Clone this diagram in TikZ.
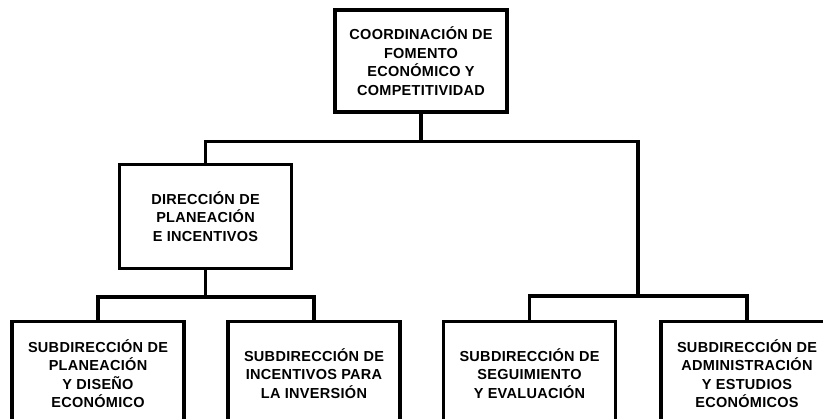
\documentclass[tikz,border=0pt]{standalone}
\usepackage{fontspec}
\setmainfont{Liberation Sans}
\newfontfamily\UnitFont[LetterSpace=2]{Liberation Sans}
\usepackage{tikz}
\usetikzlibrary{positioning,calc}
\tikzstyle{UnitBox} =[draw,line width=3.3pt,fill=white,minimum width=172pt,minimum height=104pt,align=center,font=\UnitFont\bfseries\fontsize{14.5}{18.5}\selectfont]
\tikzstyle{OrgLine} =[line width=3.3pt]

\begin{document}
\begin{tikzpicture}[x=1pt,y=1pt]
    \useasboundingbox (0,0) rectangle (823,419);
    \clip (0,0) rectangle (823,419);

    \node[UnitBox,minimum height=102pt](Coordinacion-Fomento) at (421,358){COORDINACIÓN DE\\FOMENTO\\ECONÓMICO Y\\COMPETITIVIDAD};
    \node[UnitBox](Direccion-Planeacion) at (205.5,202.5){DIRECCIÓN DE\\PLANEACIÓN\\E INCENTIVOS};

    \node[UnitBox](Sub-Planeacion-Diseno) at (98,45.5){SUBDIRECCIÓN DE\\PLANEACIÓN\\Y DISEÑO\\ECONÓMICO};
    \node[UnitBox](Sub-Incentivos-Inversion) at (314,45.5){SUBDIRECCIÓN DE\\INCENTIVOS PARA\\LA INVERSIÓN};
    \node[UnitBox](Sub-Seguimiento-Evaluacion) at (529.5,45.5){SUBDIRECCIÓN DE\\SEGUIMIENTO\\Y EVALUACIÓN};
    \node[UnitBox](Sub-Administracion-Estudios) at (747,45.5){SUBDIRECCIÓN DE\\ADMINISTRACIÓN\\Y ESTUDIOS\\ECONÓMICOS};

    % branch points
    \coordinate (Top-Junction) at ($(Coordinacion-Fomento.south)+(0,-28)$);
    \coordinate (Left-Junction) at ($(Direccion-Planeacion.south)+(0,-27)$);
    \coordinate (Right-Junction) at (638,123);

    \draw[OrgLine] (Coordinacion-Fomento.south) -- (Top-Junction) -| (Direccion-Planeacion.north);
    \draw[OrgLine] (Top-Junction) -| (Right-Junction);

    \draw[OrgLine] (Direccion-Planeacion.south) -- (Left-Junction) -| (Sub-Planeacion-Diseno.north);
    \draw[OrgLine] (Left-Junction) -| (Sub-Incentivos-Inversion.north);

    \draw[OrgLine] (Right-Junction) -| (Sub-Seguimiento-Evaluacion.north);
    \draw[OrgLine] (Right-Junction) -| (Sub-Administracion-Estudios.north);
\end{tikzpicture}
\end{document}
